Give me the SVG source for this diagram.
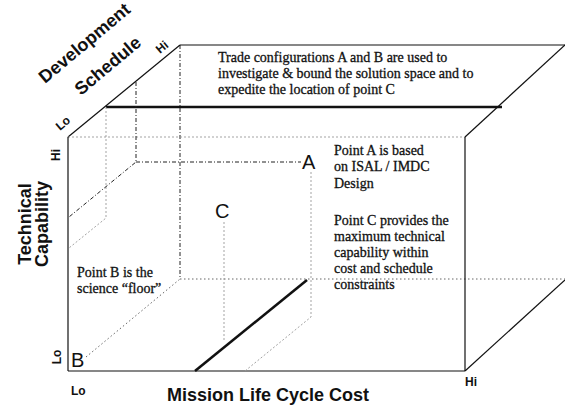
<svg xmlns="http://www.w3.org/2000/svg" width="565" height="406" viewBox="0 0 565 406">
  <style>
    .edge { stroke: #111; stroke-width: 1.2; fill: none; }
    .thick { stroke: #111; stroke-width: 2.6; fill: none; }
    .dashdot { stroke: #222; stroke-width: 1; fill: none; stroke-dasharray: 4 2 1 2; }
    .faint { stroke: #999; stroke-width: 0.9; fill: none; stroke-dasharray: 2 2; }
    .dots { stroke: #555; stroke-width: 0.9; fill: none; stroke-dasharray: 1.5 2.5; }
    .note { font-family: "Liberation Serif", "Times New Roman", serif; font-size: 14px; fill: #111; stroke: #111; stroke-width: 0.3; }
    .axis { font-family: "Liberation Sans", Arial, sans-serif; font-weight: bold; font-size: 18px; fill: #111; }
    .tick { font-family: "Liberation Sans", Arial, sans-serif; font-weight: bold; font-size: 12px; fill: #111; }
    .pt { font-family: "Liberation Sans", Arial, sans-serif; font-size: 20px; fill: #111; }
  </style>
  <rect width="565" height="406" fill="#fff"/>

  <g id="connectors">
    <!-- back face -->
    <line class="edge" x1="180" y1="45" x2="565" y2="45"/>
    <line class="dashdot" x1="180" y1="45" x2="180" y2="279"/>
    <line class="dots" x1="180" y1="279" x2="565" y2="279"/>
    <!-- depth edges -->
    <line class="edge" x1="68" y1="137" x2="180" y2="45"/>
    <line class="edge" x1="465" y1="137" x2="565" y2="45"/>
    <line class="edge" x1="465" y1="371" x2="565" y2="280"/>
    <line class="dots" x1="86" y1="357" x2="180" y2="279"/>
    <!-- front face -->
    <line class="faint" x1="68" y1="137" x2="465" y2="137"/>
    <line class="edge" x1="68" y1="137" x2="68" y2="371"/>
    <line class="edge" x1="68" y1="371" x2="465" y2="371"/>
    <line class="edge" x1="465" y1="137" x2="465" y2="371"/>
    <!-- schedule plane -->
    <line class="thick" x1="106" y1="107" x2="502" y2="107"/>
    <polyline class="faint" points="106,107 106,218 69,248"/>
    <!-- point A guides -->
    <polyline class="dashdot" points="136,82 136,162 69,217"/>
    <line class="dashdot" x1="136" y1="162" x2="301" y2="162"/>
    <polyline class="faint" points="311,172 311,317 245,371"/>
    <!-- point C guides -->
    <line class="faint" x1="224" y1="222" x2="224" y2="340"/>
    <line class="thick" x1="195" y1="371" x2="307" y2="280"/>
  </g>

  <g id="axis-schedule">
    <text class="axis" font-size="17" transform="translate(45,84) rotate(-40)">Development</text>
    <text class="axis" font-size="17" transform="translate(81,96) rotate(-40)">Schedule</text>
    <text class="tick" transform="translate(60,131) rotate(-40)">Lo</text>
    <text class="tick" transform="translate(160,54) rotate(-40)">Hi</text>
  </g>

  <g id="axis-capability">
    <text class="axis" text-anchor="middle" transform="translate(31,224) rotate(-90)">Technical</text>
    <text class="axis" text-anchor="middle" transform="translate(48,224) rotate(-90)">Capability</text>
    <text class="tick" text-anchor="middle" transform="translate(60,155) rotate(-90)">Hi</text>
    <text class="tick" text-anchor="middle" transform="translate(61,357) rotate(-90)">Lo</text>
  </g>

  <g id="axis-cost">
    <text class="axis" x="268" y="401" text-anchor="middle">Mission Life Cycle Cost</text>
    <text class="tick" x="71" y="395">Lo</text>
    <text class="tick" x="465" y="386">Hi</text>
  </g>

  <g id="trade-note">
    <text class="note" x="218" y="62">Trade configurations A and B are used to</text>
    <text class="note" x="218" y="78">investigate &amp; bound the solution space and to</text>
    <text class="note" x="218" y="94">expedite the location of point C</text>
  </g>

  <g id="point-a">
    <text class="pt" x="302" y="169">A</text>
    <text class="note" x="334" y="155">Point A is based</text>
    <text class="note" x="334" y="171">on ISAL / IMDC</text>
    <text class="note" x="334" y="188">Design</text>
  </g>

  <g id="point-c">
    <text class="pt" x="215" y="218">C</text>
    <text class="note" x="334" y="225">Point C provides the</text>
    <text class="note" x="334" y="241">maximum technical</text>
    <text class="note" x="334" y="257">capability within</text>
    <text class="note" x="334" y="273">cost and schedule</text>
    <text class="note" x="334" y="289">constraints</text>
  </g>

  <g id="point-b">
    <text class="pt" x="71" y="367">B</text>
    <text class="note" x="77" y="277">Point B is the</text>
    <text class="note" x="77" y="293">science “floor”</text>
  </g>
</svg>
